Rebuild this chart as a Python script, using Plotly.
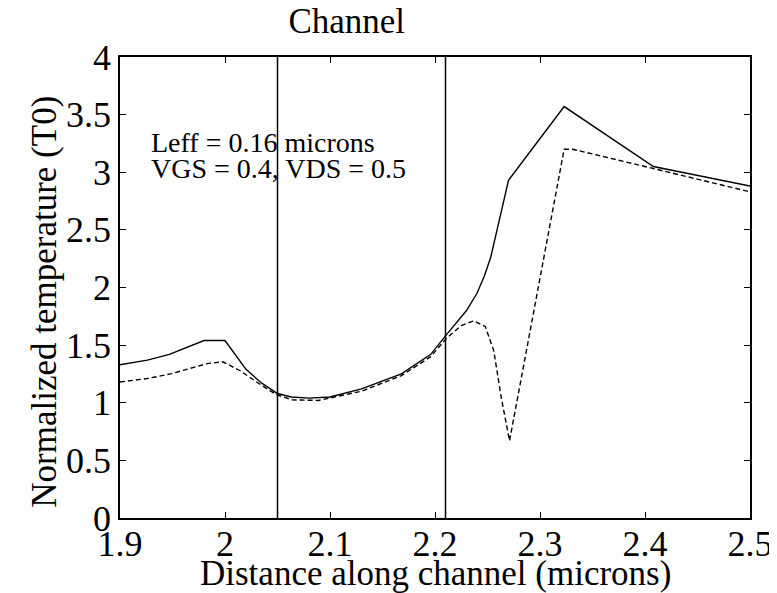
import plotly.graph_objects as go

# Distance along channel (microns) / normalized temperature (T0)
x_solid = [1.900, 1.926, 1.947, 1.980, 2.000, 2.010, 2.020, 2.035, 2.050, 2.063,
           2.080, 2.100, 2.130, 2.168, 2.196, 2.210, 2.220, 2.230, 2.240, 2.247,
           2.253, 2.270, 2.323, 2.408, 2.500]
t_solid = [1.33, 1.37, 1.42, 1.54, 1.54, 1.42, 1.29, 1.17, 1.08, 1.05,
           1.04, 1.05, 1.12, 1.25, 1.42, 1.58, 1.69, 1.80, 1.95, 2.10,
           2.26, 2.93, 3.57, 3.05, 2.88]

x_dashed = [1.900, 1.926, 1.948, 1.983, 1.998, 2.014, 2.035, 2.049, 2.064, 2.089,
            2.130, 2.168, 2.196, 2.210, 2.225, 2.237, 2.248, 2.256, 2.263, 2.271,
            2.323, 2.331, 2.409, 2.500]
t_dashed = [1.18, 1.21, 1.25, 1.34, 1.355, 1.28, 1.15, 1.07, 1.025, 1.02,
            1.10, 1.235, 1.40, 1.55, 1.67, 1.71, 1.66, 1.45, 1.05, 0.67,
            3.20, 3.20, 3.03, 2.83]

# channel boundaries (vertical lines)
boundaries = [2.05, 2.21]

x_ticks = [1.9, 2.0, 2.1, 2.2, 2.3, 2.4, 2.5]
x_labels = ["1.9", "2", "2.1", "2.2", "2.3", "2.4", "2.5"]
y_ticks = [0, 0.5, 1, 1.5, 2, 2.5, 3, 3.5, 4]
y_labels = ["0", "0.5", "1", "1.5", "2", "2.5", "3", "3.5", "4"]

note_lines = ["Leff = 0.16 microns", "VGS = 0.4, VDS = 0.5"]
note_y = [3.26, 3.03]

FONT = "Liberation Serif, Times New Roman, serif"

fig = go.Figure()
fig.add_trace(go.Scatter(x=x_solid, y=t_solid, mode="lines",
                         line=dict(color="black", width=1.4)))
fig.add_trace(go.Scatter(x=x_dashed, y=t_dashed, mode="lines",
                         line=dict(color="black", width=1.4, dash="5px,3px")))

for b in boundaries:
    fig.add_shape(type="line", xref="x", yref="paper", x0=b, x1=b, y0=0, y1=1,
                  line=dict(color="black", width=1.5))

for txt, yy in zip(note_lines, note_y):
    fig.add_annotation(x=1.928, y=yy, xref="x", yref="y", text=txt,
                       showarrow=False, xanchor="left", yanchor="middle",
                       font=dict(family=FONT, size=28, color="black"))

# axis titles placed as annotations for precise positioning
fig.add_annotation(x=0.5, y=-0.121, xref="paper", yref="paper",
                   text="Distance along channel (microns)", showarrow=False,
                   xanchor="center", yanchor="middle",
                   font=dict(family=FONT, size=35, color="black"))
fig.add_annotation(x=-0.12, y=0.47, xref="paper", yref="paper",
                   text="Normalized temperature (T0)", showarrow=False, textangle=-90,
                   xanchor="center", yanchor="middle",
                   font=dict(family=FONT, size=35, color="black"))

axis_common = dict(showline=True, linecolor="black", linewidth=1.5, mirror="ticks",
                   ticks="inside", ticklen=6, tickcolor="black", showgrid=False,
                   zeroline=False, tickfont=dict(family=FONT, size=36, color="black"))

fig.update_layout(
    width=777, height=593, autosize=False,
    paper_bgcolor="white", plot_bgcolor="white",
    showlegend=False,
    margin=dict(l=112, r=26, t=49, b=83),
    title=dict(text="Channel", x=0.436, xanchor="center", y=1.0, yanchor="top",
               pad=dict(t=0, b=0),
               font=dict(family=FONT, size=35, color="black")),
    xaxis=dict(range=[1.9, 2.5], tickvals=x_ticks, ticktext=x_labels,
               ticklabelstandoff=-7, **axis_common),
    yaxis=dict(range=[0, 4], tickvals=y_ticks, ticktext=y_labels, **axis_common),
)

fig.write_html("out.html")
